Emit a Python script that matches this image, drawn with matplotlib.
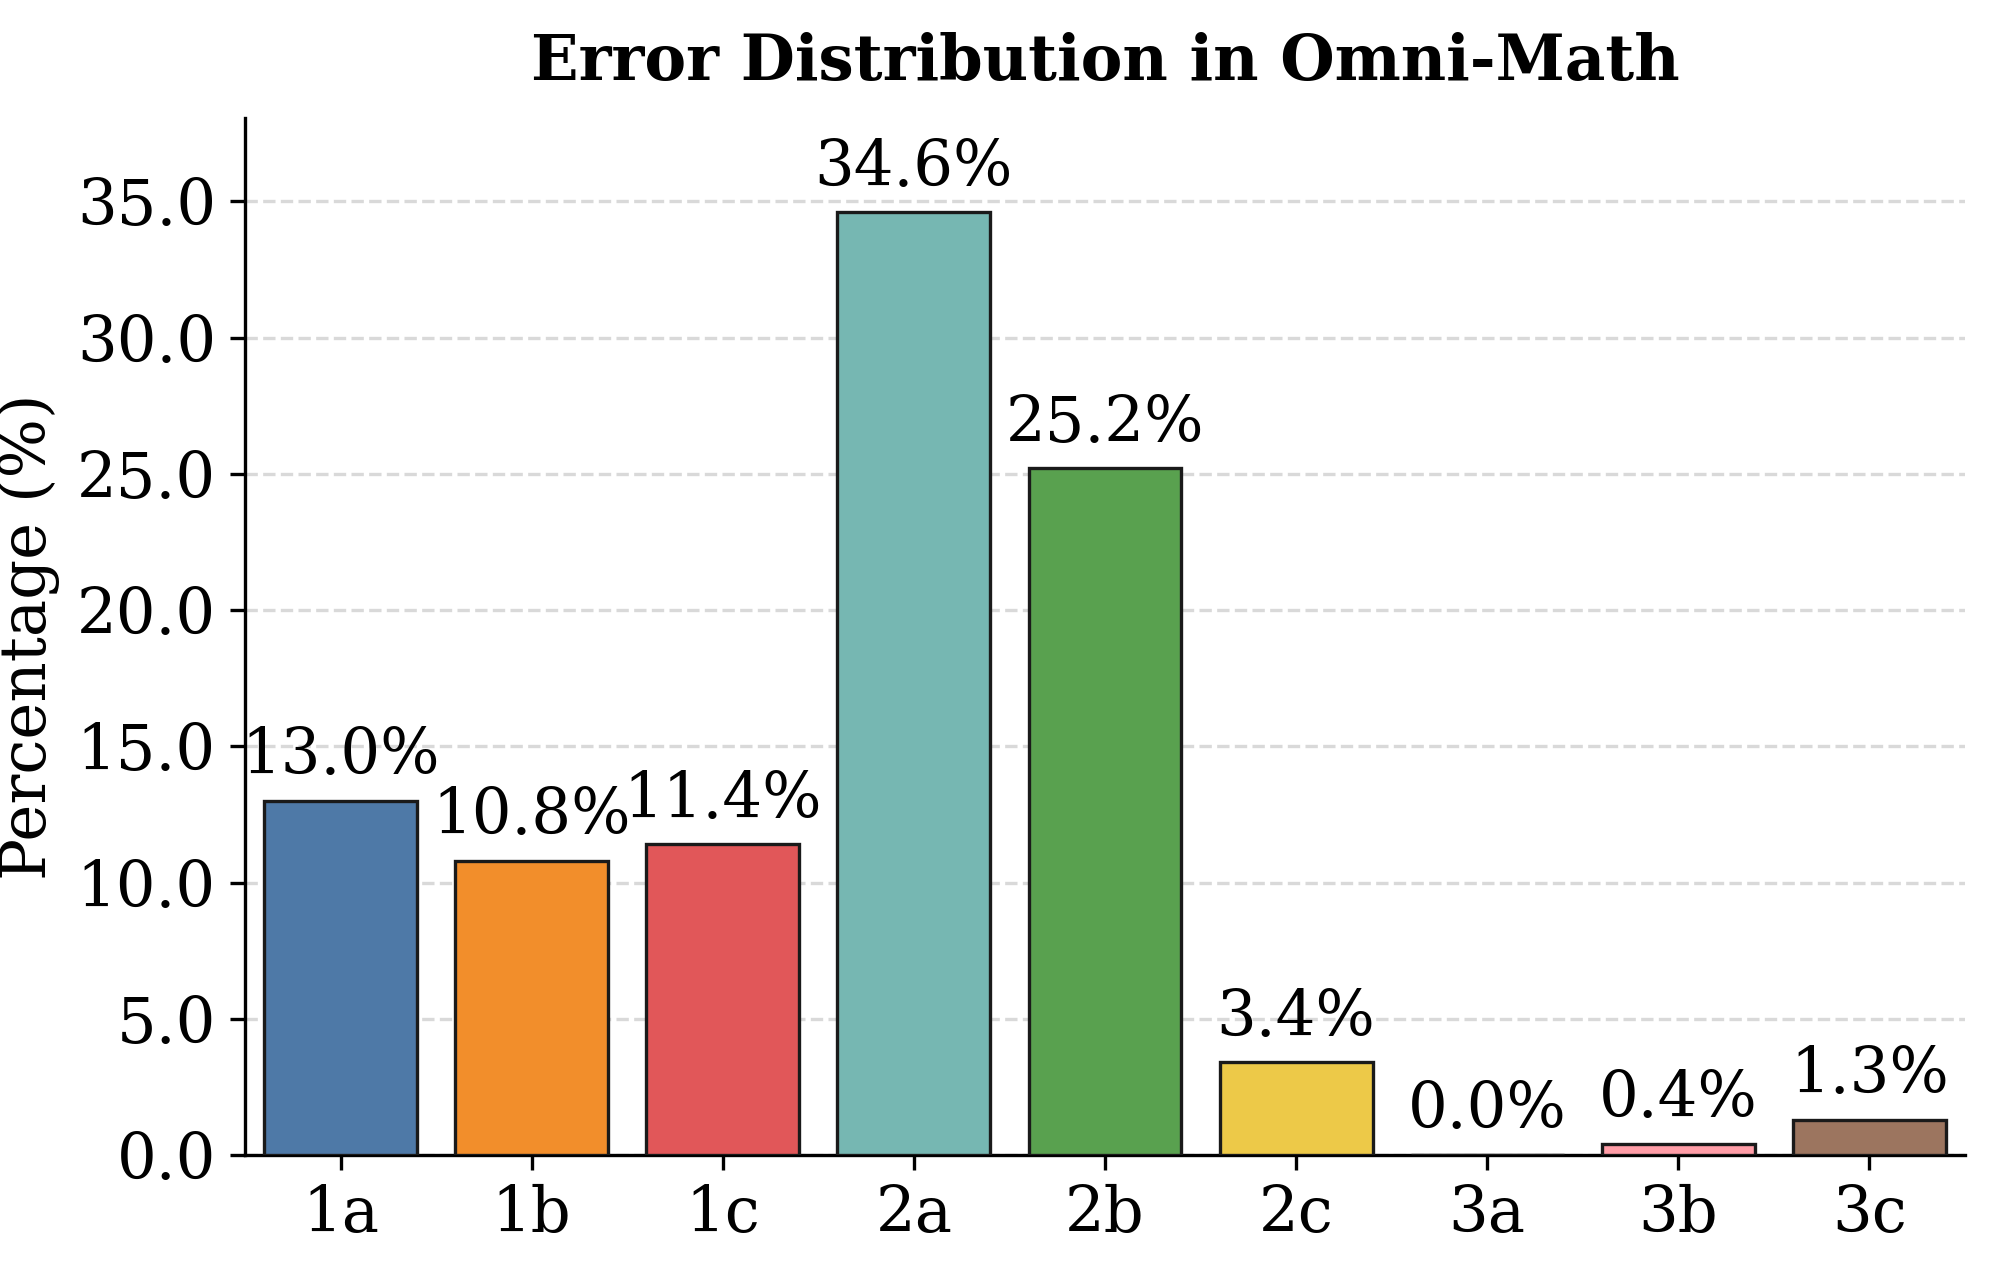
import matplotlib
matplotlib.use("Agg")
import matplotlib.pyplot as plt
from matplotlib import ticker

# Error categories and their share of all errors (%)
categories = ["1a", "1b", "1c", "2a", "2b", "2c", "3a", "3b", "3c"]
percentages = [13.0, 10.8, 11.4, 34.6, 25.2, 3.4, 0.0, 0.4, 1.3]
bar_colours = ["#4e79a7", "#f28e2b", "#e15759", "#76b7b2", "#59a14f",
               "#edc948", "#b07aa1", "#ff9da7", "#9c755f"]

plt.rcParams["font.family"] = "DejaVu Serif"
plt.rcParams["font.size"] = 15

fig = plt.figure(figsize=(1994 / 300, 1275 / 300), dpi=300)
ax = fig.add_axes([0.1229, 0.0941, 0.8625, 0.8134])

positions = range(len(categories))
bars = ax.bar(positions, percentages, width=0.8, color=bar_colours,
              edgecolor="#1a1a1a", linewidth=0.8, zorder=3)

# Value labels above each bar
for rect, value in zip(bars, percentages):
    ax.text(rect.get_x() + rect.get_width() / 2, value + 0.5, f"{value:.1f}%",
            ha="center", va="bottom", fontsize=15)

ax.set_xticks(list(positions))
ax.set_xticklabels(categories)
ax.set_xlim(-0.5, len(categories) - 0.5)
ax.set_ylim(0, max(percentages) * 1.1)
ax.yaxis.set_major_locator(ticker.MultipleLocator(5))
ax.yaxis.set_major_formatter(ticker.FormatStrFormatter("%.1f"))
ax.tick_params(labelsize=15)

ax.set_ylabel("Percentage (%)", fontsize=15)
ax.set_title("Error Distribution in Omni-Math", fontsize=15,
             fontweight="bold", pad=9)

ax.grid(axis="y", linestyle="--", color="#d9d9d9", linewidth=0.8, zorder=0)
ax.set_axisbelow(True)
ax.spines["top"].set_visible(False)
ax.spines["right"].set_visible(False)

fig.savefig("out.png", dpi=300)
